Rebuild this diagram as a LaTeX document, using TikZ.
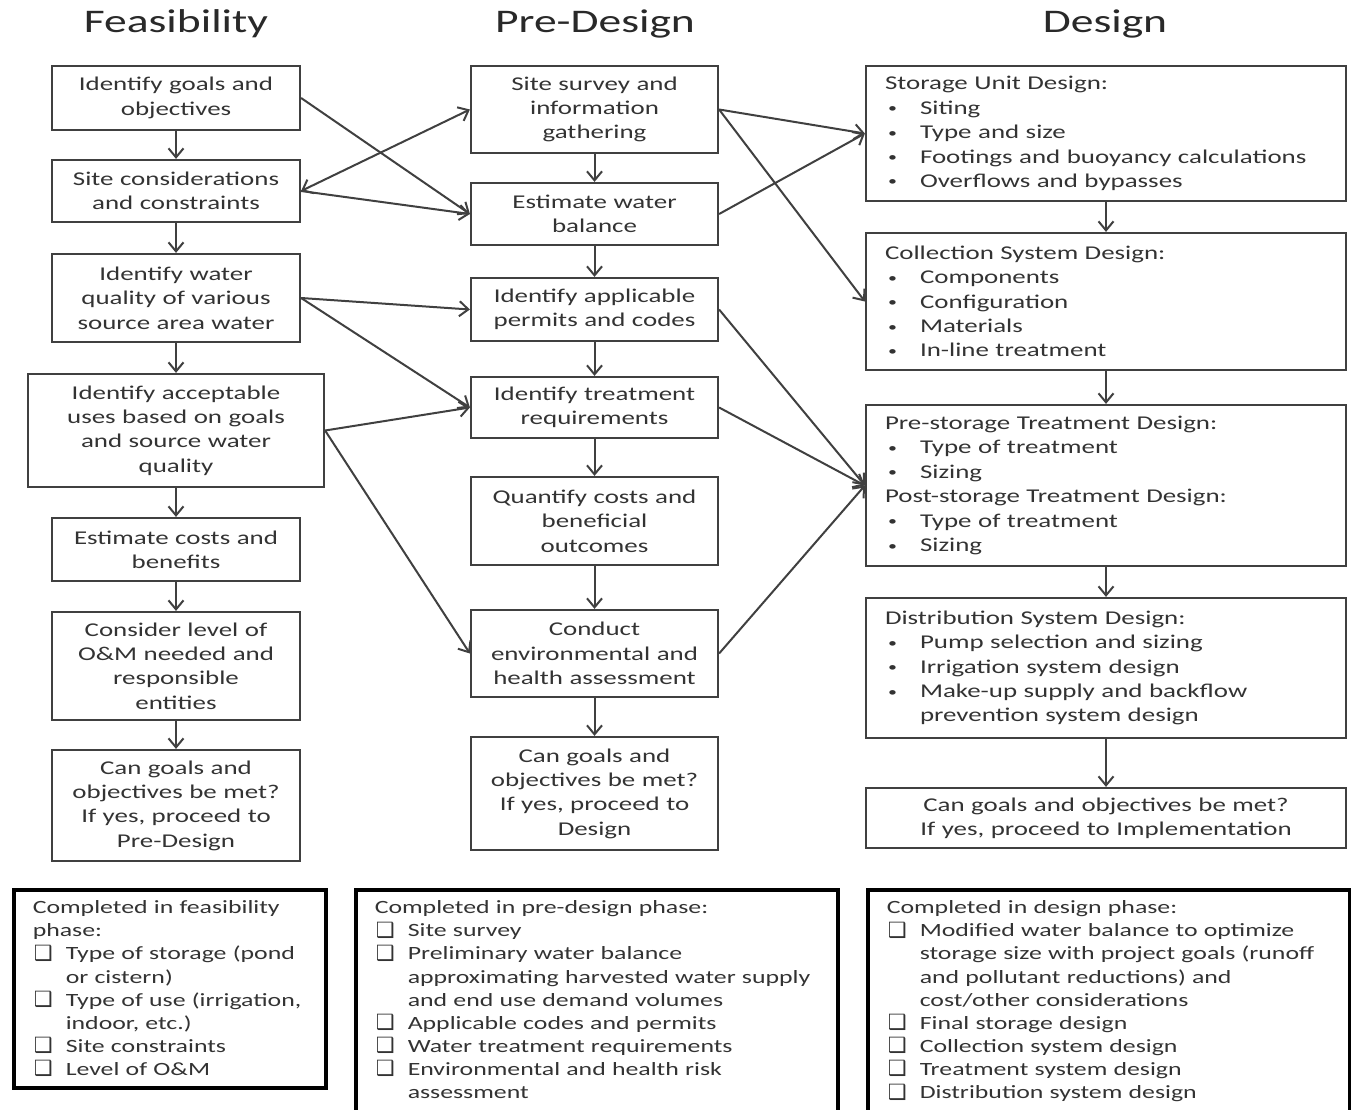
\documentclass[tikz,border=0pt]{standalone}
\usepackage{fontspec}
\setmainfont{Carlito}[FakeStretch=1.38]
\newfontfamily\chkfont{DejaVu Sans}
\usetikzlibrary{arrows.meta}
\definecolor{txtc}{HTML}{333333}
\definecolor{linec}{HTML}{404040}
\newcommand\dsbul{\makebox[35pt][l]{\hspace*{3pt}\raisebox{1.5pt}{\fontsize{13}{13}\selectfont •}}}
\newcommand\dsind{\hspace*{35pt}}
\newcommand\dschk{\makebox[33pt][l]{\hspace*{1pt}\raisebox{-0.5pt}{\chkfont\fontsize{21}{21}\selectfont ❑}}}
\newcommand\dscind{\hspace*{33pt}}
\begin{document}
\begin{tikzpicture}[x=1pt,y=-1pt,
  >={Straight Barb[length=9pt,width=15pt]},
  ttlsty/.style={text=txtc!80!black, font=\fontsize{33}{36}\selectfont, inner sep=0pt},
  cbox/.style={draw=linec, line width=2.2pt, text=txtc, align=center,
     font=\fontsize{19.5}{24.4}\selectfont, inner xsep=6pt, inner ysep=0pt,
     minimum width=#1, text width=#1-12pt},
  lbox/.style={draw=linec, line width=2.2pt, text=txtc, align=left,
     font=\fontsize{19.5}{24.4}\selectfont, inner xsep=19pt, inner ysep=0pt,
     text width=442pt},
  bbox/.style={draw=black, line width=3.5pt, text=txtc, align=left,
     font=\fontsize{18.7}{23.1}\selectfont, inner xsep=19pt, inner ysep=11pt},
  arr/.style={draw=linec, line width=2pt, ->},
  arrb/.style={draw=linec, line width=2pt, <->}
]
\useasboundingbox (0,0) rectangle (1351,1110);

% titles
\node[ttlsty] (tF) at (176,24) {Feasibility};
\node[ttlsty] (tP) at (595,24) {Pre-Design};
\node[ttlsty] (tD) at (1105,24) {Design};

% Feasibility column
\node[cbox=248pt, minimum height=64pt] (F1) at (176,98) {Identify goals and\\objectives};
\node[cbox=248pt, minimum height=62pt] (F2) at (176,191) {Site considerations\\and constraints};
\node[cbox=248pt, minimum height=88pt] (F3) at (176,298) {Identify water\\quality of various\\source area water};
\node[cbox=296pt, minimum height=113pt] (F4) at (176,430.5) {Identify acceptable\\uses based on goals\\and source water\\quality};
\node[cbox=248pt, minimum height=63pt] (F5) at (176,549.5) {Estimate costs and\\benefits};
\node[cbox=248pt, minimum height=108pt] (F6) at (176,666) {Consider level of\\O\&M needed and\\responsible\\entities};
\node[cbox=248pt, minimum height=111pt] (F7) at (176,805.5) {Can goals and\\objectives be met?\\If yes, proceed to\\Pre-Design};

% Pre-Design column
\node[cbox=247pt, minimum height=87pt] (P1) at (594.5,109.5) {Site survey and\\information\\gathering};
\node[cbox=247pt, minimum height=62pt] (P2) at (594.5,214) {Estimate water\\balance};
\node[cbox=247pt, minimum height=63pt] (P3) at (594.5,309.5) {Identify applicable\\permits and codes};
\node[cbox=247pt, minimum height=61pt] (P4) at (594.5,407.5) {Identify treatment\\requirements};
\node[cbox=247pt, minimum height=88pt] (P5) at (594.5,521) {Quantify costs and\\beneficial\\outcomes};
\node[cbox=247pt, minimum height=87pt] (P6) at (594.5,653.5) {Conduct\\environmental and\\health assessment};
\node[cbox=247pt, minimum height=113pt] (P7) at (594.5,793.5) {Can goals and\\objectives be met?\\If yes, proceed to\\Design};

% Design column
\node[lbox, minimum height=135pt] (D1) at (1106,133.5) {Storage Unit Design:\\
\dsbul Siting\\
\dsbul Type and size\\
\dsbul Footings and buoyancy calculations\\
\dsbul Overflows and bypasses};
\node[lbox, minimum height=137pt] (D2) at (1106,301.5) {Collection System Design:\\
\dsbul Components\\
\dsbul Configuration\\
\dsbul Materials\\
\dsbul In-line treatment};
\node[lbox, minimum height=161pt] (D3) at (1106,485.5) {Pre-storage Treatment Design:\\
\dsbul Type of treatment\\
\dsbul Sizing\\
Post-storage Treatment Design:\\
\dsbul Type of treatment\\
\dsbul Sizing};
\node[lbox, minimum height=140pt] (D4) at (1106,668) {Distribution System Design:\\
\dsbul Pump selection and sizing\\
\dsbul Irrigation system design\\
\dsbul Make-up supply and backflow\\
\dsind prevention system design};
\node[cbox=480pt, minimum height=60pt] (D5) at (1106,818) {Can goals and objectives be met?\\If yes, proceed to Implementation};

% bottom summary boxes
\node[bbox, text width=274pt, anchor=north west] (B1) at (12,888) {Completed in feasibility\\phase:\\
\dschk Type of storage (pond\\
\dscind or cistern)\\
\dschk Type of use (irrigation,\\
\dscind indoor, etc.)\\
\dschk Site constraints\\
\dschk Level of O\&M};
\node[bbox, text width=444pt, anchor=north west] (B2) at (354,888) {Completed in pre-design phase:\\
\dschk Site survey\\
\dschk Preliminary water balance\\
\dscind approximating harvested water supply\\
\dscind and end use demand volumes\\
\dschk Applicable codes and permits\\
\dschk Water treatment requirements\\
\dschk Environmental and health risk\\
\dscind assessment\rule[-40pt]{0pt}{40pt}};
\node[bbox, text width=444pt, anchor=north west] (B3) at (866,888) {Completed in design phase:\\
\dschk Modified water balance to optimize\\
\dscind storage size with project goals (runoff\\
\dscind and pollutant reductions) and\\
\dscind cost/other considerations\\
\dschk Final storage design\\
\dschk Collection system design\\
\dschk Treatment system design\\
\dschk Distribution system design\rule[-40pt]{0pt}{40pt}};

% vertical arrows
\foreach \a/\b in {F1/F2,F2/F3,F3/F4,F4/F5,F5/F6,F6/F7,
                   P1/P2,P2/P3,P3/P4,P4/P5,P5/P6,P6/P7,
                   D1/D2,D2/D3,D3/D4,D4/D5}
  \draw[arr] (\a) -- (\b);

% cross arrows feasibility -> pre-design
\draw[arr] (F1.east) -- (P2.west);
\draw[arrb] (F2.east) -- (P1.west);
\draw[arr] (F2.east) -- (P2.west);
\draw[arr] (F3.east) -- (P3.west);
\draw[arr] (F3.east) -- (P4.west);
\draw[arr] (F4.east) -- (P4.west);
\draw[arr] (F4.east) -- (P6.west);

% cross arrows pre-design -> design
\draw[arr] (P1.east) -- (D1.west);
\draw[arr] (P1.east) -- (D2.west);
\draw[arr] (P2.east) -- (D1.west);
\draw[arr] (P3.east) -- (D3.west);
\draw[arr] (P4.east) -- (D3.west);
\draw[arr] (P6.east) -- (D3.west);
\end{tikzpicture}
\end{document}
